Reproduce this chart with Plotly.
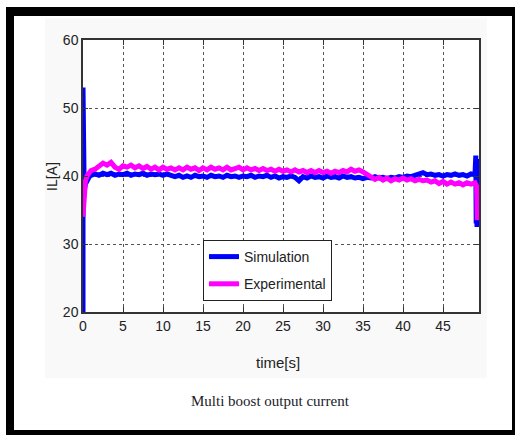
import plotly.graph_objects as go

# ---------------- data ----------------
t_start = [0.0, 0.0, 0.05, 0.15, 0.3, 0.5, 0.8, 1.0]
sim_start = [20.0, 53.0, 37.0, 37.8, 38.8, 39.4, 39.9, 40.1]
exp_start = [34.0, 34.0, 35.5, 37.5, 39.2, 40.0, 40.6, 40.8]

t_grid = [1.5 + 0.5 * i for i in range(96)]  # 1.5 .. 49.0 s

sim_mid = [40.3, 40.1, 40.4, 40.2, 40.4, 40.1, 40.3, 40.2, 40.4, 40.1,
           40.3, 40.2, 40.4, 40.1, 40.3, 40.2, 40.3, 40.1, 40.3, 40.1,
           39.9, 40.1, 39.8, 40.0, 39.8, 40.1, 39.9, 40.0, 39.8, 40.1,
           39.9, 40.0, 39.8, 40.1, 39.9, 40.0, 39.8, 40.0, 39.9, 40.1,
           39.8, 40.0, 39.9, 40.1, 39.8, 40.0, 39.7, 39.9, 39.8, 40.0,
           39.8, 39.3, 39.9, 39.7, 40.0, 39.8, 39.9, 39.7, 40.0, 39.8,
           39.9, 39.7, 40.0, 39.8, 39.9, 39.7, 39.8, 39.6, 39.8, 39.7,
           39.9, 39.7, 39.8, 39.6, 39.8, 39.7, 39.9, 39.8, 40.0, 39.9,
           40.1, 40.4, 40.5, 40.2, 40.3, 40.1, 40.2, 40.0, 40.2, 40.1,
           40.3, 40.1, 40.2, 40.0, 40.3, 40.2]

exp_mid = [41.0, 41.4, 41.9, 41.6, 42.0, 41.3, 41.0, 41.5, 41.3, 41.6,
           41.2, 41.5, 41.1, 41.4, 41.0, 41.3, 40.9, 41.3, 41.0, 41.2,
           40.9, 41.2, 40.9, 41.3, 41.0, 41.2, 40.8, 41.2, 40.9, 41.3,
           41.0, 41.2, 40.9, 41.3, 40.9, 41.1, 41.3, 40.9, 41.2, 40.9,
           41.1, 40.8, 41.1, 40.8, 41.0, 40.7, 41.0, 40.7, 40.9, 40.6,
           40.9, 40.6, 40.8, 40.5, 40.8, 40.5, 40.8, 40.5, 40.7, 40.4,
           40.7, 40.5, 40.8, 40.6, 41.0, 40.7, 40.9, 40.6, 40.2, 39.7,
           39.5, 39.8, 39.4, 39.7, 39.3, 39.6, 39.4, 39.7, 39.4, 39.6,
           39.3, 39.5, 39.3, 39.4, 39.1, 39.3, 38.9, 39.2, 38.8, 39.1,
           38.8, 39.0, 38.7, 39.0, 38.8, 39.0]

t_sim_end = [49.1, 49.15, 49.2, 49.25, 49.3, 49.35, 49.4]
sim_end = [43.0, 33.0, 42.5, 32.5, 42.0, 33.5, 40.0]
t_exp_end = [49.2, 49.3, 49.4]
exp_end = [38.5, 33.5, 38.6]

x_ticks = [0, 5, 10, 15, 20, 25, 30, 35, 40, 45]
y_ticks = [20, 30, 40, 50, 60]

t_sim = t_start + t_grid + t_sim_end
y_sim = sim_start + sim_mid + sim_end
t_exp = t_start + t_grid + t_exp_end
y_exp = exp_start + exp_mid + exp_end

# ---------------- figure ----------------
W, H = 515, 435
L, R, T, B = 83, 479, 40, 312  # plot area in pixels
pw, ph = R - L, B - T


def xp(px):
    return (px - L) / pw


def yp(py):
    return (B - py) / ph


sans = "Liberation Sans, Arial, sans-serif"

fig = go.Figure()
fig.add_trace(go.Scatter(x=t_sim, y=y_sim, mode="lines", name="Simulation",
                         legendgroup="a",
                         line=dict(color="#0000ff", width=5)))
fig.add_trace(go.Scatter(x=t_exp, y=y_exp, mode="lines", name="Experimental",
                         legendgroup="b",
                         line=dict(color="#ff00ff", width=5)))

axis_common = dict(showline=True, linecolor="#333333", linewidth=1.5,
                   mirror="ticks", ticks="inside", ticklen=5,
                   tickcolor="#333333", showgrid=True, gridcolor="#555555",
                   gridwidth=1, griddash="3px,3px", zeroline=False,
                   tickfont=dict(family=sans, size=14, color="#222222"))

fig.update_xaxes(range=[0, 49.5], tickvals=x_ticks, ticktext=[str(v) for v in x_ticks],
                 **axis_common)
fig.update_yaxes(range=[20, 60], tickvals=y_ticks, ticktext=[str(v) for v in y_ticks],
                 **axis_common)

shapes = [
    # light figure background
    dict(type="rect", xref="paper", yref="paper", x0=xp(45), x1=xp(487),
         y0=yp(378), y1=yp(18), fillcolor="#f9f9f9", line=dict(width=0),
         layer="below"),
    # white axes area
    dict(type="rect", xref="paper", yref="paper", x0=0, x1=1, y0=0, y1=1,
         fillcolor="white", line=dict(width=0), layer="below"),
    # outer black frame
    dict(type="rect", xref="paper", yref="paper", x0=xp(6), x1=xp(515),
         y0=yp(16), y1=yp(7), fillcolor="black", line=dict(width=0)),
    dict(type="rect", xref="paper", yref="paper", x0=xp(6), x1=xp(14),
         y0=yp(435), y1=yp(7), fillcolor="black", line=dict(width=0)),
    dict(type="rect", xref="paper", yref="paper", x0=xp(512), x1=xp(515),
         y0=yp(435), y1=yp(7), fillcolor="black", line=dict(width=0)),
    dict(type="rect", xref="paper", yref="paper", x0=xp(6), x1=xp(515),
         y0=yp(435), y1=yp(430), fillcolor="black", line=dict(width=0)),
]

annotations = [
    dict(text="time[s]", xref="paper", yref="paper", x=xp(278), y=yp(362),
         showarrow=False, xanchor="center", yanchor="middle",
         font=dict(family=sans, size=15, color="#222222")),
    dict(text="IL[A]", xref="paper", yref="paper", x=xp(52), y=yp(177),
         showarrow=False, xanchor="center", yanchor="middle", textangle=-90,
         font=dict(family=sans, size=14, color="#222222")),
    dict(text="Multi boost output current", xref="paper", yref="paper",
         x=xp(270), y=yp(401), showarrow=False, xanchor="center",
         yanchor="middle",
         font=dict(family="Liberation Serif, Times New Roman, serif", size=15,
                   color="#1a1a2a")),
]

fig.update_layout(
    width=W, height=H,
    margin=dict(l=L, r=W - R, t=T, b=H - B, pad=0),
    paper_bgcolor="white", plot_bgcolor="white",
    showlegend=True,
    legend=dict(x=xp(203), y=yp(240), xanchor="left", yanchor="top",
                bgcolor="white", bordercolor="#222222", borderwidth=1,
                font=dict(family=sans, size=14, color="#222222"),
                traceorder="grouped", tracegroupgap=6, itemwidth=30),
    shapes=shapes,
    annotations=annotations,
)

fig.write_html("out.html",
               config={"displayModeBar": False},
               post_script="document.body.style.margin='0px';"
                           "document.body.style.overflow='hidden';")
